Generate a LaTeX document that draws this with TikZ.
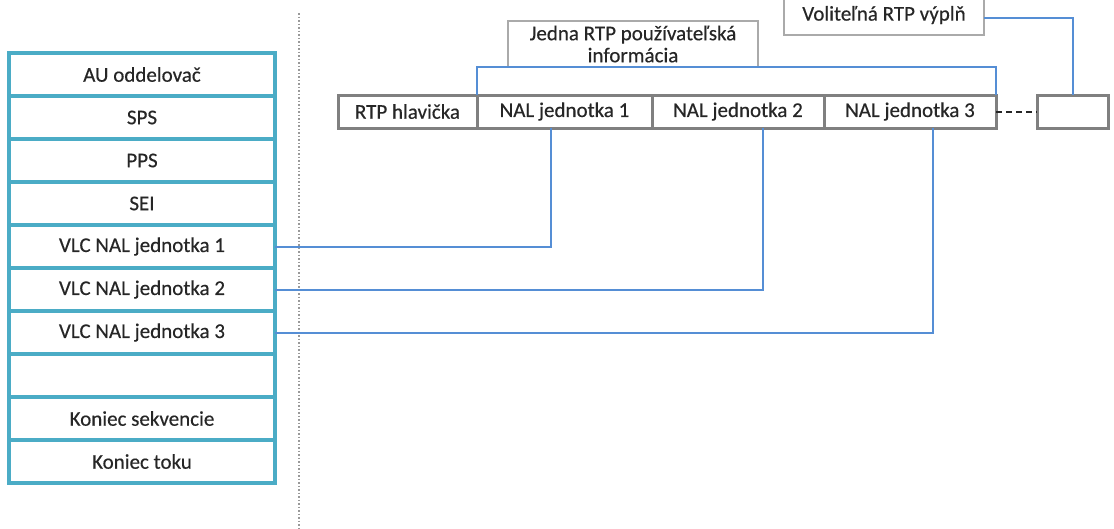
\documentclass[tikz,border=0pt]{standalone}
\usepackage{fontspec}
\setmainfont{Carlito}[FakeBold=0.4]
\usetikzlibrary{positioning}
\definecolor{aucyan}{RGB}{75,172,198}
\definecolor{linkblue}{RGB}{85,142,213}
\definecolor{pktgray}{RGB}{128,128,128}
\definecolor{notegray}{RGB}{170,170,170}

\begin{document}
\begin{tikzpicture}[x=1pt,y=-1pt,
  font=\fontsize{21}{22}\selectfont,
  every node/.style={text=black!85},
  au/.style={draw=aucyan,line width=3.5pt,minimum width=266pt,minimum height=43pt,
    inner sep=0pt,outer sep=0pt},
  pkt/.style={draw=pktgray,line width=3pt,minimum height=33pt,inner sep=0pt,outer sep=0pt},
  note/.style={draw=notegray,line width=1.8pt,inner sep=0pt,outer sep=0pt,align=center},
  link/.style={draw=linkblue,line width=2pt}]

\useasboundingbox (0,0) rectangle (1114,528);

% access unit, one row per element
\node[au] (aud) at (142,74.5) {AU oddelovač};
\node[au,below=0pt of aud] (sps) {SPS};
\node[au,below=0pt of sps] (pps) {PPS};
\node[au,below=0pt of pps] (sei) {SEI};
\node[au,below=0pt of sei] (vlc1) {VLC NAL jednotka 1};
\node[au,below=0pt of vlc1] (vlc2) {VLC NAL jednotka 2};
\node[au,below=0pt of vlc2] (vlc3) {VLC NAL jednotka 3};
\node[au,below=0pt of vlc3] (blank) {};
\node[au,below=0pt of blank] (eoseq) {Koniec sekvencie};
\node[au,below=0pt of eoseq] (eostr) {Koniec toku};

% separator
\draw[black!40,dotted,line width=1.5pt] (299,13) -- (299,528);

% RTP packet
\node[pkt,minimum width=139pt] (rtph) at (407.5,111.5) {RTP hlavička};
\node[pkt,minimum width=175pt,right=0pt of rtph] (nal1) {NAL jednotka 1};
\node[pkt,minimum width=172pt,right=0pt of nal1] (nal2) {NAL jednotka 2};
\node[pkt,minimum width=172pt,right=0pt of nal2] (nal3) {NAL jednotka 3};
\node[pkt,minimum width=71pt] (pad) at (1072.5,111.5) {};
\draw[black!85,dash pattern=on 6pt off 4pt,line width=2pt] (nal3) -- (pad);

% notes above the packet
\node[note,minimum width=250pt,minimum height=46pt] (info) at (633,44)
  {Jedna RTP používateľská\\informácia};
\node[note,minimum width=200pt,minimum height=40pt] (opt) at (884,15)
  {Voliteľná RTP výplň};

% payload bracket and links
\draw[link] (nal1.north west) -- (nal1.north west |- info.south) -| (nal3.north east);
\draw[link] ([yshift=-3pt]opt.east) -| (pad.north);
\draw[link] (vlc1.east) -| ([xshift=-13.5pt]nal1.south);
\draw[link] (vlc2.east) -| ([xshift=25pt]nal2.south);
\draw[link] (vlc3.east) -| ([xshift=23pt]nal3.south);
\end{tikzpicture}
\end{document}
